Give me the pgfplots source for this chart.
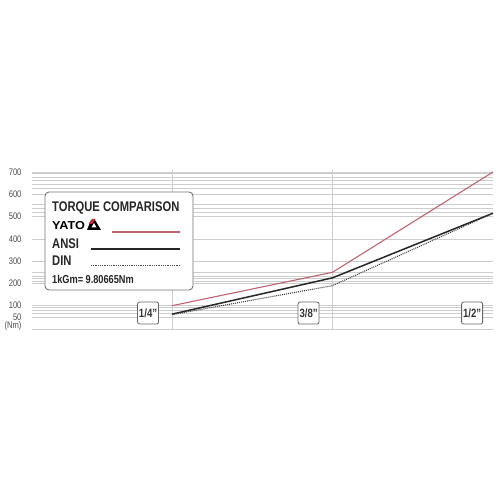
\documentclass[border=0pt]{standalone}
\usepackage{pgfplots}
\pgfplotsset{compat=1.18}
\usepackage{fontspec}
\setmainfont{Liberation Sans}[FakeStretch=0.8]
\newfontfamily\yatofont{Liberation Sans}[FakeStretch=1.1]
\definecolor{yatored}{RGB}{190,100,110}
\definecolor{logored}{RGB}{200,40,50}
\definecolor{gridgray}{RGB}{205,205,205}

\begin{document}
\begin{tikzpicture}[x=1pt,y=1pt]
\path[use as bounding box] (0,0) rectangle (500,500);
\begin{axis}[at={(32pt,170pt)}, anchor=south west,
    scale only axis, width=461pt, height=160pt,
    xmin=0.128, xmax=3, ymin=-9, ymax=709,
    xtick={1,2}, xticklabels={}, xmajorgrids,
    ytick={50,100,200,300,400,500,600,700},
    minor ytick={-8,49,67,81,94,211,224,233,251,502,520,538,556,629,646,664,678,695},
    ymajorgrids, yminorgrids,
    grid style={draw=gridgray, line width=0.6pt},
    minor grid style={draw=gridgray, line width=0.6pt},
    major grid style={draw=gridgray, line width=0.6pt},
    extra y ticks={9}, extra y tick labels={(Nm)},
    extra y tick style={grid=none},
    axis line style={draw=none},
    major tick length=0pt, minor tick length=0pt,
    yticklabel style={font=\fontsize{9.5}{10}\selectfont, text=black!70, xshift=-7pt},
    /pgf/number format/assume math mode=true,
    clip=false]
\addplot[yatored, line width=1.1pt] coordinates {(1,100) (2,250) (3,700)};
\addplot[black!85, line width=1.5pt] coordinates {(1,62) (2,225) (3,515)};
\addplot[black!75, line width=1.1pt, dash pattern=on 1pt off 1pt] coordinates {(1,60) (2,190) (3,515)};
\tikzset{sizebox/.style={draw=black!60, line width=0.8pt, rounded corners=2pt, fill=white,
    font=\bfseries\fontsize{12}{12}\selectfont, text=black!80, anchor=east,
    minimum width=21pt, minimum height=22pt, inner sep=1pt}}
\node[sizebox, xshift=-13pt] at (axis cs:1,67) {1/4"};
\node[sizebox, xshift=-13pt] at (axis cs:2,67) {3/8"};
\node[sizebox, xshift=-10pt] at (axis cs:3,67) {1/2"};
\end{axis}
% legend box
\draw[draw=black!55, line width=0.9pt, rounded corners=4pt, fill=white] (45,210) rectangle (193,308);
\node[anchor=base west, inner sep=0, text=black!85, font=\bfseries\fontsize{14}{14}\selectfont] at (52,288) {TORQUE COMPARISON};
\node[anchor=base west, inner sep=0, font=\yatofont\bfseries\fontsize{11.5}{12}\selectfont] at (52,270) {YATO};
% small logo
\fill[black] (87,270) -- (101,270) -- (95,280) -- (91,280) -- cycle;
\fill[white] (91.5,272.5) -- (96.5,272.5) -- (94,277) -- cycle;
\fill[logored] (88.5,276) -- (92,281) -- (95.5,281) -- (92,276) -- cycle;
\draw[yatored, line width=1.1pt] (112,268) -- (180,268);
\node[anchor=base west, inner sep=0, text=black!85, font=\bfseries\fontsize{14}{14}\selectfont] at (52,251) {ANSI};
\draw[black!85, line width=1.3pt] (91,251) -- (180,251);
\node[anchor=base west, inner sep=0, text=black!85, font=\bfseries\fontsize{14}{14}\selectfont] at (52,234) {DIN};
\draw[black!70, line width=0.9pt, dash pattern=on 0.9pt off 0.9pt] (91,235) -- (180,235);
\node[anchor=base west, inner sep=0, text=black!85, font=\bfseries\fontsize{11.5}{12}\selectfont] at (52,216) {1kGm= 9.80665Nm};
\end{tikzpicture}
\end{document}
